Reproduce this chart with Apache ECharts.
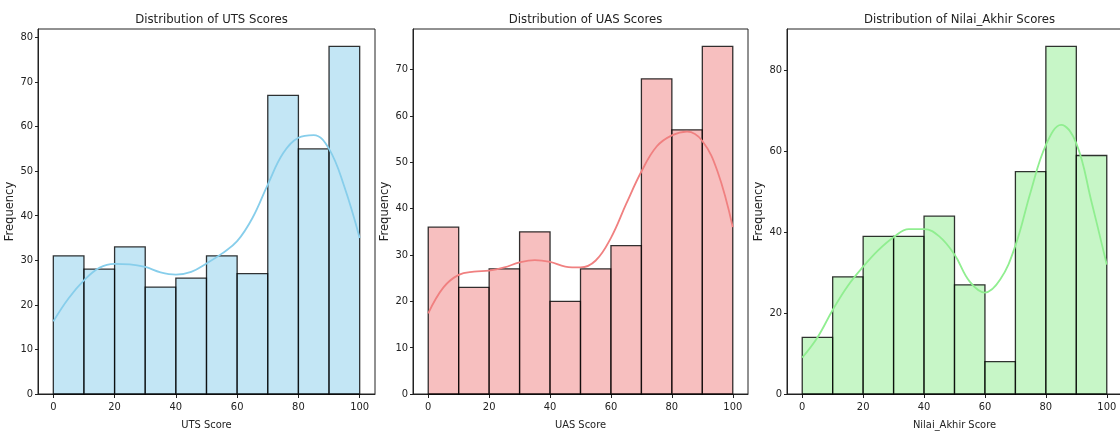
<!DOCTYPE html>
<html><head><meta charset="utf-8">
<script src="https://cdn.jsdelivr.net/npm/echarts@6/dist/echarts.min.js"></script>
<style>html,body{margin:0;padding:0;background:#fff}#c{width:1120px;height:434px}</style>
</head><body><div id="c"></div>
<script>
// ---- data ----
const binEdges = [0, 10, 20, 30, 40, 50, 60, 70, 80, 90, 100];
const utsCounts = [31, 28, 33, 24, 26, 31, 27, 67, 55, 78];
const uasCounts = [36, 23, 27, 35, 20, 27, 32, 68, 57, 75];
const akhirCounts = [14, 29, 39, 39, 44, 27, 8, 55, 86, 59];
const kdeX = [0, 5, 10, 15, 20, 25, 30, 35, 40, 45, 50, 55, 60, 65, 70, 75, 80, 85, 90, 95, 100];
const utsKde = [16.3, 21.5, 25.5, 28.3, 29.2, 29.1, 28.5, 27.3, 26.8, 27.4, 29.3, 31.5, 34.3, 39.5, 47.0, 54.0, 57.5, 58.1, 55.0, 46.5, 35.0];
const uasKde = [17.4, 23.0, 25.7, 26.4, 26.6, 27.3, 28.4, 28.9, 28.5, 27.5, 27.3, 28.8, 33.7, 41.0, 48.0, 53.4, 55.8, 56.6, 54.6, 48.0, 36.0];
const akhirKde = [9.0, 14.0, 20.8, 26.8, 31.5, 35.6, 38.8, 40.8, 40.8, 39.0, 34.5, 27.8, 25.1, 28.3, 36.7, 50.0, 61.6, 66.6, 62.0, 47.5, 32.0];
const xTicks = [0, 20, 40, 60, 80, 100];
const utsYTicks = [0, 10, 20, 30, 40, 50, 60, 70, 80];
const uasYTicks = [0, 10, 20, 30, 40, 50, 60, 70];
const akhirYTicks = [0, 20, 40, 60, 80];
const titles = ['Distribution of UTS Scores', 'Distribution of UAS Scores', 'Distribution of Nilai_Akhir Scores'];
const xNames = ['UTS Score', 'UAS Score', 'Nilai_Akhir Score'];
const yName = 'Frequency';

// ---- layout/style ----
const FONT = "'Liberation Sans Narrow', 'DejaVu Sans Condensed', 'Liberation Sans', sans-serif";
const panels = [
  {counts: utsCounts, kde: utsKde, yTicks: utsYTicks, fill: 'rgba(135,206,235,0.5)', line: '#87CEEB', left: 38, width: 337},
  {counts: uasCounts, kde: uasKde, yTicks: uasYTicks, fill: 'rgba(240,128,128,0.5)', line: '#F08080', left: 413, width: 335},
  {counts: akhirCounts, kde: akhirKde, yTicks: akhirYTicks, fill: 'rgba(144,238,144,0.5)', line: '#90EE90', left: 787, width: 335}
];
const TOP = 29, HEIGHT = 365;

const option = {
  animation: false,
  backgroundColor: '#fff',
  title: [], grid: [], xAxis: [], yAxis: [], series: []
};

panels.forEach((p, i) => {
  option.title.push({
    text: titles[i], left: p.left + p.width / 2, top: 8, textAlign: 'center',
    textStyle: {fontFamily: FONT, fontSize: 13, fontWeight: 'normal', color: '#222'}
  });
  option.grid.push({
    left: p.left, top: TOP, width: p.width, height: HEIGHT,
    show: true, borderColor: '#222', borderWidth: 1, backgroundColor: 'transparent',
    containLabel: false, outerBoundsMode: 'none'
  });
  option.xAxis.push({
    type: 'value', gridIndex: i, min: -5, max: 105,
    name: xNames[i], nameLocation: 'middle', nameGap: 26,
    nameTextStyle: {fontFamily: FONT, fontSize: 11, color: '#222'},
    axisLine: {show: true, onZero: false, lineStyle: {color: '#222', width: 1}},
    axisTick: {show: true, length: 4, customValues: xTicks, lineStyle: {color: '#222'}},
    axisLabel: {customValues: xTicks, margin: 8, fontFamily: FONT, fontSize: 11, color: '#222'},
    splitLine: {show: false}
  });
  option.yAxis.push({
    type: 'value', gridIndex: i, min: 0, max: Math.max(...p.counts) * 1.05,
    name: yName, nameLocation: 'middle', nameGap: 18, nameRotate: 90,
    nameTextStyle: {fontFamily: "'DejaVu Sans', sans-serif", fontSize: 11.5, color: '#222'},
    axisLine: {show: true, onZero: false, lineStyle: {color: '#222', width: 1}},
    axisTick: {show: true, length: 3, customValues: p.yTicks, lineStyle: {color: '#222'}},
    axisLabel: {customValues: p.yTicks, margin: 5, fontFamily: FONT, fontSize: 11, color: '#222'},
    splitLine: {show: false}
  });
  const barData = p.counts.map((c, k) => [binEdges[k], binEdges[k + 1], c]);
  option.series.push({
    type: 'custom', xAxisIndex: i, yAxisIndex: i, z: 2,
    encode: {x: [0, 1], y: 2},
    data: barData,
    renderItem: (params, api) => {
      const a = api.coord([api.value(0), api.value(2)]);
      const b = api.coord([api.value(1), 0]);
      return {type: 'rect', shape: {x: a[0], y: a[1], width: b[0] - a[0], height: b[1] - a[1]},
        style: {fill: p.fill, stroke: 'rgba(0,0,0,0.8)', lineWidth: 1.3}};
    }
  });
  option.series.push({
    type: 'line', xAxisIndex: i, yAxisIndex: i, z: 3,
    data: kdeX.map((x, k) => [x, p.kde[k]]),
    smooth: 0.4, showSymbol: false, symbol: 'none',
    lineStyle: {color: p.line, width: 1.8}
  });
});

const chart = echarts.init(document.getElementById('c'), null, {renderer: 'canvas'});
chart.setOption(option);
</script>
</body></html>
